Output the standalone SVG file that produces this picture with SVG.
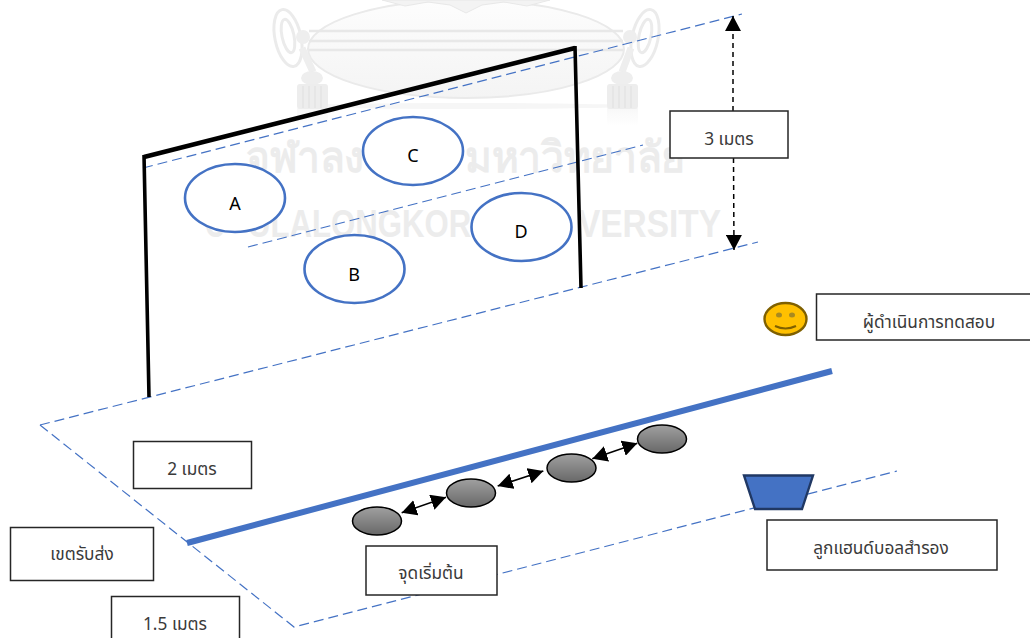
<svg xmlns="http://www.w3.org/2000/svg" width="1030" height="638" viewBox="0 0 1030 638">
<style>
.t{font-family:"Noto Sans","Noto Sans Thai","Liberation Sans",sans-serif;font-size:17.3px;fill:#3a3a3a;text-anchor:middle}
.l{font-family:"Noto Sans","Liberation Sans",sans-serif;font-size:18px;fill:#000;text-anchor:middle}
.box{fill:#fff;stroke:#262626;stroke-width:1.5}
.zone{fill:#fff;stroke:#4472c4;stroke-width:2.6}
.dash{fill:none;stroke:#4472c4;stroke-width:1.2;stroke-dasharray:10 5}
.cone{fill:url(#g);stroke:#000;stroke-width:1.5}
.arrow{stroke:#000;stroke-width:1.5;fill:none;marker-start:url(#ah);marker-end:url(#ah)}
.wm{fill:#ececec;font-weight:bold;font-family:"Liberation Sans","Noto Sans",sans-serif}
.c{fill:none;stroke:#ebebeb;stroke-width:3}
.s{fill:none;stroke:#e4e4e4;stroke-width:1.5}
</style>
<defs>
<linearGradient id="g" x1="0" y1="0" x2="0" y2="1"><stop offset="0" stop-color="#a0a0a0"/><stop offset="1" stop-color="#686868"/></linearGradient>
<linearGradient id="p" x1="0" y1="0" x2="0" y2="1"><stop offset="0" stop-color="#fdfdfd"/><stop offset="1" stop-color="#f4f4f4"/></linearGradient>
<linearGradient id="f" x1="0" y1="0" x2="0" y2="1"><stop offset="0" stop-color="#f0f0f0"/><stop offset="1" stop-color="#fff"/></linearGradient>
<marker id="ah" markerUnits="userSpaceOnUse" markerWidth="16" markerHeight="16" refX="15" refY="8" orient="auto-start-reverse"><path d="M0 0L15 8L0 16Z" fill="#000"/></marker>
</defs>
<rect width="1030" height="638" fill="#fff"/>
<g id="watermark">
<ellipse cx="466" cy="106" rx="165" ry="3" fill="#f6f6f6"/>
<rect x="297" y="108" width="31" height="18" fill="url(#f)" opacity=".5"/>
<rect x="607" y="108" width="31" height="18" fill="url(#f)" opacity=".5"/>
<ellipse cx="466" cy="49" rx="158" ry="49" fill="url(#p)" stroke="#eaeaea" stroke-width="2"/>
<path d="M309 31H623M309 41H623M309 50H623" stroke="#e8e8e8" stroke-width="2.5" fill="none"/>
<path d="M382 0L405 6L428 2L450 5L466 13L482 5L504 2L527 6L550 0Z" fill="#f3f3f3" stroke="#e8e8e8"/>
<ellipse cx="288" cy="38" rx="13" ry="29" class="c" transform="rotate(-12 288 38)"/>
<ellipse cx="288" cy="36" rx="6" ry="17" class="c" transform="rotate(-12 288 36)"/>
<ellipse cx="645" cy="38" rx="13" ry="29" class="c" transform="rotate(12 645 38)"/>
<ellipse cx="645" cy="36" rx="6" ry="17" class="c" transform="rotate(12 645 36)"/>
<circle cx="303" cy="37" r="7" fill="#eeeeee"/><circle cx="630" cy="37" r="7" fill="#eeeeee"/>
<path d="M302 48L313 72M631 48L622 72" stroke="#eeeeee" stroke-width="7" fill="none"/>
<ellipse cx="312" cy="78" rx="11" ry="7" fill="#eeeeee"/><ellipse cx="622" cy="78" rx="11" ry="7" fill="#eeeeee"/>
<rect x="297" y="84" width="31" height="25" rx="3" fill="#ededed"/>
<rect x="607" y="84" width="31" height="25" rx="3" fill="#ededed"/>
<path class="s" d="M303 86V108M309 86V108M315 86V108M321 86V108M613 86V108M619 86V108M625 86V108M631 86V108"/>
<text class="wm" x="246" y="172" font-size="43" textLength="118" lengthAdjust="spacingAndGlyphs">จุฬาลง</text>
<text class="wm" x="465" y="172" font-size="43" textLength="220" lengthAdjust="spacingAndGlyphs">มหาวิทยาลัย</text>
<text class="wm" font-size="38" transform="translate(205 237) scale(.73 1)">C</text>
<text class="wm" font-size="38" transform="translate(248 237) scale(.82 1)">ULALONGKOR</text>
<text class="wm" font-size="38" transform="translate(578 237) scale(.88 1)">VERSITY</text>
</g>
<g id="connectors">
<path class="dash" d="M143 168L742 14"/>
<path class="dash" d="M248 247L643 145"/>
<path class="dash" d="M40 425L758 242"/>
<path class="dash" d="M40 425L294 627L897 471"/>
<path d="M144 157L575 48" fill="none" stroke="#000" stroke-width="4.5"/>
<path d="M149 397L144 155M575 46L581 288" fill="none" stroke="#000" stroke-width="3.6"/>
<path d="M187 543L832 371" stroke="#4472c4" stroke-width="6" fill="none"/>
<path d="M733 16V111" stroke="#000" stroke-width="1.5" stroke-dasharray="5 4" marker-start="url(#ah)" fill="none"/>
<path d="M733.5 158L734 250" stroke="#000" stroke-width="1.5" stroke-dasharray="5 4" marker-end="url(#ah)" fill="none"/>
<path class="arrow" d="M401.7 512.7L446 497.3"/>
<path class="arrow" d="M497.7 486L543.3 471"/>
<path class="arrow" d="M592.3 458.7L637.3 443.3"/>
</g>
<g id="zone-a"><ellipse class="zone" cx="235" cy="198" rx="50" ry="34"/><text class="l" x="235" y="210">A</text></g>
<g id="zone-b"><ellipse class="zone" cx="354.500" cy="269" rx="50" ry="34"/><text class="l" x="354" y="281">B</text></g>
<g id="zone-c"><ellipse class="zone" cx="413" cy="151" rx="50" ry="34"/><text class="l" x="413" y="162">C</text></g>
<g id="zone-d"><ellipse class="zone" cx="521.500" cy="227" rx="50" ry="34"/><text class="l" x="521" y="238">D</text></g>
<g id="cone-1"><ellipse class="cone" cx="377" cy="521" rx="24.5" ry="14"/></g>
<g id="cone-2"><ellipse class="cone" cx="471" cy="493" rx="24.5" ry="14"/></g>
<g id="cone-3"><ellipse class="cone" cx="571.5" cy="468" rx="24.5" ry="14"/></g>
<g id="cone-4"><ellipse class="cone" cx="662" cy="439" rx="24.5" ry="14"/></g>
<g id="box-3m"><rect class="box" x="670" y="111" width="118" height="47"/><text class="t" x="729" y="145">3 เมตร</text></g>
<g id="box-tester"><rect class="box" x="816.5" y="294" width="220" height="46"/><text class="t" x="929" y="328">ผู้ดำเนินการทดสอบ</text></g>
<g id="box-2m"><rect class="box" x="133.5" y="441.5" width="118" height="47"/><text class="t" x="192" y="475">2 เมตร</text></g>
<g id="box-zone"><rect class="box" x="10.5" y="527.5" width="143" height="53"/><text class="t" x="82" y="560">เขตรับส่ง</text></g>
<g id="box-15m"><rect class="box" x="111.5" y="596.5" width="128" height="50"/><text class="t" x="175" y="630">1.5 เมตร</text></g>
<g id="box-start"><rect class="box" x="366" y="546" width="131" height="49"/><text class="t" x="431" y="579">จุดเริ่มต้น</text></g>
<g id="box-balls"><rect class="box" x="767" y="520" width="230" height="50"/><text class="t" x="881" y="554">ลูกแฮนด์บอลสำรอง</text></g>
<g id="tester"><ellipse cx="785.5" cy="319" rx="21" ry="16" fill="#ffc000" stroke="#7f6000" stroke-width="2.4"/><ellipse cx="779" cy="315" rx="3" ry="2.5" fill="#a88a20"/><ellipse cx="792" cy="315" rx="3" ry="2.5" fill="#a88a20"/><path d="M775 326Q785.5 331 796 326" fill="none" stroke="#7f6000" stroke-width="2"/></g>
<g id="ball-basket"><path d="M744 475.5H813L802 509H755Z" fill="#4472c4" stroke="#203864" stroke-width="2.4"/></g>
</svg>
